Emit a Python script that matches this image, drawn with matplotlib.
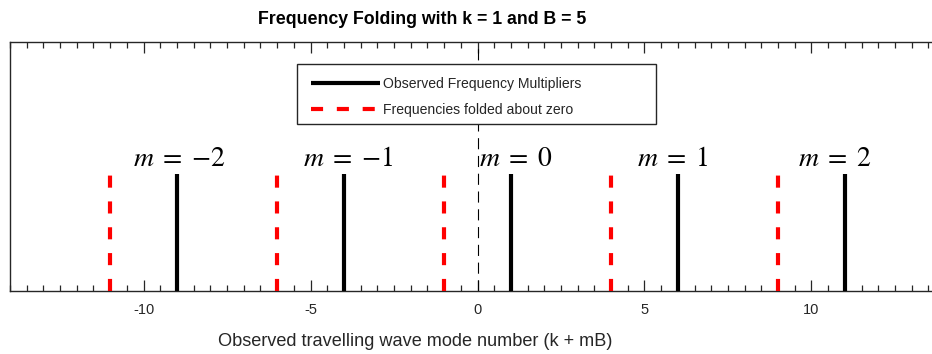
import matplotlib
matplotlib.use("Agg")
import matplotlib.pyplot as plt
from matplotlib.patches import Rectangle
from matplotlib.ticker import MultipleLocator

# Mode parameters
k = 1
B = 5
m_values = [-2, -1, 0, 1, 2]
observed = [k + m * B for m in m_values]          # -9, -4, 1, 6, 11
folded = [-(k + m * B) for m in m_values]         # mirrored about zero
line_height = [1, 1, 1, 1, 1]
m_labels = [r"$m\;=\;%s$" % (("{-}%d" % -m) if m < 0 else "%d" % m) for m in m_values]
xticks = [-10, -5, 0, 5, 10]
xtick_labels = ["-10", "-5", "0", "5", "10"]

W, H = 932, 354
fig = plt.figure(figsize=(W / 100, H / 100), dpi=100)
plt.rcParams["mathtext.fontset"] = "stix"
sans = ["Liberation Sans", "DejaVu Sans"]
dark = "#262626"

ax = fig.add_axes([10 / W, 63 / H, 935 / W, 249 / H])
ax.set_xlim(-14, 14)
ax.set_ylim(0, 2.128)

# Folded frequencies (red dashed) and observed multipliers (solid black)
red_lines = None
for x, h in zip(folded, line_height):
    red_lines, = ax.plot([x, x], [0, h], color="#ff0000", lw=3.0,
                         dashes=(2.9, 3.3), solid_capstyle="butt",
                         dash_capstyle="butt", zorder=3)
black_lines = None
for x, h in zip(observed, line_height):
    black_lines, = ax.plot([x, x], [0, h], color="black", lw=3.0,
                           solid_capstyle="butt", zorder=4)

# Zero reference line
ax.axvline(0, color="black", lw=0.8, dashes=(10, 6), zorder=2)

# Mode labels
label_x = [-8.92, -3.88, 1.15, 5.84, 10.69]
for lx, txt in zip(label_x, m_labels):
    ax.text(lx, 1.07, txt, ha="center", va="baseline", fontsize=20,
            color="black", zorder=5)

# Axis styling
ax.set_yticks([])
ax.set_xticks(xticks)
ax.set_xticklabels(xtick_labels, fontfamily=sans, fontsize=10.5, color=dark)
ax.xaxis.set_minor_locator(MultipleLocator(0.5))
ax.tick_params(axis="x", which="major", direction="in", length=8, width=0.9,
               color=dark, top=True, bottom=True, pad=9)
ax.tick_params(axis="x", which="minor", direction="in", length=4, width=0.9,
               color=dark, top=True, bottom=True)
for s in ax.spines.values():
    s.set_color(dark)
    s.set_linewidth(1.0)

# Title and axis label
fig.text(422 / W, 1 - 19 / H, "Frequency Folding with k = 1 and B = 5",
         ha="center", va="center", fontsize=12.8, fontweight="bold",
         fontfamily=sans, color="black")
fig.text(415 / W, 1 - 341 / H, "Observed travelling wave mode number (k + mB)",
         ha="center", va="center", fontsize=13.1, fontfamily=sans, color=dark)

# Legend with a framed box
box = Rectangle((297 / W, 1 - 124 / H), (656 - 297) / W, 60 / H,
                transform=fig.transFigure, facecolor="white",
                edgecolor=dark, lw=1.0, zorder=10)
fig.add_artist(box)
leg = fig.legend([black_lines, red_lines],
                 ["Observed Frequency Multipliers", "Frequencies folded about zero"],
                 loc="upper left", bbox_to_anchor=(300 / W, 1 - 66 / H),
                 bbox_transform=fig.transFigure, frameon=False,
                 prop={"family": sans, "size": 10.1}, handlelength=4.9,
                 handletextpad=0.2, labelspacing=0.85, borderpad=0.3)
leg.set_zorder(11)
for t in leg.get_texts():
    t.set_color(dark)

fig.savefig("out.png", dpi=100)
